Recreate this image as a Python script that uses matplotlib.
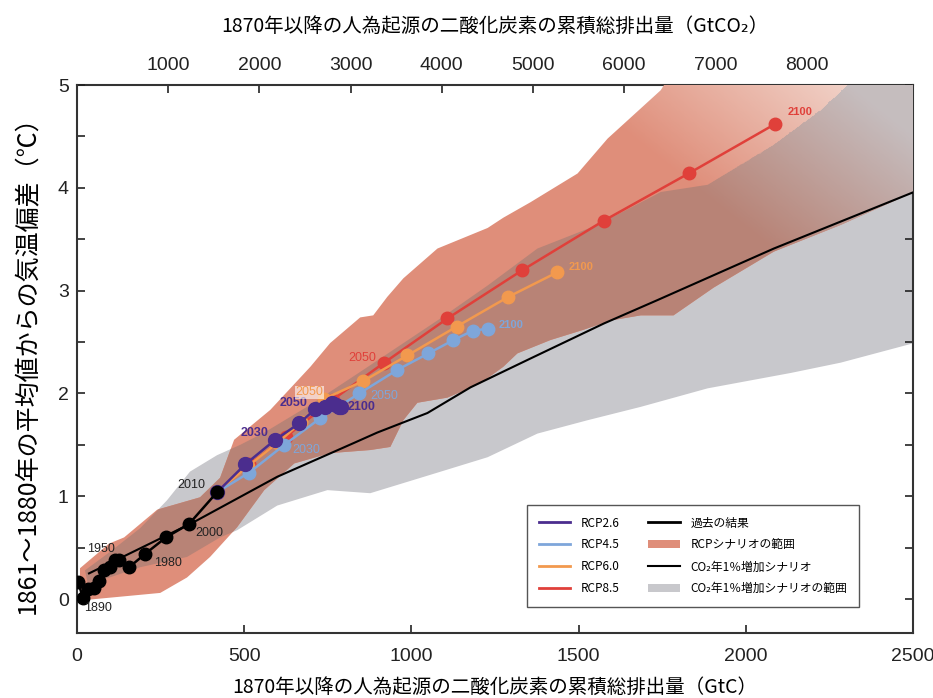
import numpy as np
import matplotlib
matplotlib.use('Agg')
import matplotlib.pyplot as plt
from matplotlib.patches import Polygon, Patch
from matplotlib.lines import Line2D
from matplotlib.path import Path
from matplotlib.ticker import MultipleLocator

plt.rcParams['font.family'] = ['Liberation Sans', 'Noto Sans CJK JP', 'DejaVu Sans']
jp = ['Noto Sans CJK JP', 'DejaVu Sans']

# cumulative emissions (GtC) and temperature anomaly (degC)
hist_x = [3, 18, 32, 50, 66, 81, 99, 114, 126, 156, 204, 266, 335, 419]
hist_y = [0.17, 0.01, 0.10, 0.11, 0.18, 0.28, 0.31, 0.38, 0.38, 0.31, 0.44, 0.60, 0.73, 1.04]

rcp26_x = [419, 503, 593, 665, 713, 743, 763, 775, 784, 790]
rcp26_y = [1.04, 1.31, 1.55, 1.71, 1.85, 1.87, 1.91, 1.89, 1.87, 1.87]
rcp45_x = [419, 515, 620, 728, 844, 958, 1051, 1126, 1183, 1228]
rcp45_y = [1.04, 1.23, 1.50, 1.76, 2.00, 2.23, 2.39, 2.52, 2.61, 2.63]
rcp60_x = [419, 510, 600, 670, 740, 856, 988, 1135, 1290, 1437]
rcp60_y = [1.04, 1.29, 1.52, 1.72, 1.95, 2.12, 2.37, 2.65, 2.94, 3.18]
rcp85_x = [419, 515, 625, 765, 919, 1108, 1332, 1575, 1829, 2087]
rcp85_y = [1.04, 1.31, 1.58, 1.94, 2.30, 2.73, 3.20, 3.68, 4.14, 4.62]

pct1_x = [36, 350, 599, 829, 898, 1048, 1177, 1356, 1575, 1737, 2084, 2503]
pct1_y = [0.25, 0.75, 1.19, 1.52, 1.62, 1.81, 2.06, 2.34, 2.68, 2.91, 3.41, 3.96]

# RCP scenario range (upper edge left->right, then lower edge right->left)
rcp_rng_x = [9, 96, 141, 240, 368, 428, 470, 578, 698, 757, 847, 886, 928, 976,
             1078, 1228, 1275, 1356, 1497, 1587, 1746, 1850, 2600,
             2600, 2503, 2284, 2084, 1904, 1784, 1686, 1596, 1515, 1416, 1317,
             1275, 1207, 1108, 1018, 976, 937, 877, 757, 650, 560, 479, 398,
             329, 249, 21, 9]
rcp_rng_y = [0.30, 0.54, 0.60, 0.87, 0.99, 1.18, 1.55, 1.84, 2.26, 2.49, 2.74, 2.76, 2.94, 3.12,
             3.41, 3.61, 3.71, 3.86, 4.14, 4.48, 4.95, 5.5, 5.5,
             4.05, 3.96, 3.64, 3.38, 3.03, 2.76, 2.76, 2.71, 2.62, 2.52, 2.39,
             2.26, 2.10, 1.96, 1.91, 1.74, 1.48, 1.45, 1.42, 1.32, 1.06, 0.70, 0.41,
             0.21, 0.06, -0.01, 0.02]

# 1%/yr CO2 increase range
pct_rng_x = [24, 99, 189, 269, 338, 419, 488, 560, 698, 847, 967, 1087, 1228, 1377,
             1557, 1746, 1886, 2084, 2225, 2305, 2400, 2600,
             2600, 2503, 2284, 2135, 1886, 1686, 1527, 1377, 1228, 1078, 877,
             749, 599, 479, 428, 329, 189, 33]
pct_rng_y = [0.28, 0.46, 0.69, 0.96, 1.24, 1.40, 1.50, 1.62, 1.89, 2.21, 2.47, 2.73, 3.05, 3.41,
             3.64, 3.96, 4.03, 4.42, 4.76, 5.00, 5.5, 5.5,
             2.52, 2.49, 2.30, 2.20, 2.05, 1.87, 1.74, 1.61, 1.38, 1.23, 1.03,
             1.06, 0.91, 0.67, 0.60, 0.41, 0.31, 0.14]

PURPLE = '#4b2d8e'
BLUE = '#7ea6da'
ORANGE = '#f2994e'
RED = '#e0403a'
SALMON = '#df8e7a'
BROWN = '#b88376'
GRAY = '#c8c8cc'

fig = plt.figure(figsize=(9.33, 6.98), dpi=100)
ax = fig.add_axes([0.0825, 0.0931, 0.896, 0.785])

rcp_xy = np.column_stack([rcp_rng_x, rcp_rng_y])
pct_xy = np.column_stack([pct_rng_x, pct_rng_y])

gray_patch = Polygon(pct_xy, closed=True, fc=GRAY, ec='none', zorder=1)
ax.add_patch(gray_patch)
rcp_patch = Polygon(rcp_xy, closed=True, fc=SALMON, ec='none', zorder=2)
ax.add_patch(rcp_patch)
overlap = Polygon(rcp_xy, closed=True, fc=BROWN, ec='none', zorder=3)
ax.add_patch(overlap)
overlap.set_clip_path(gray_patch)

# the RCP range fades out towards the upper right
gx = np.linspace(0, 2500, 900)
gy = np.linspace(-0.33, 5, 600)
GX, GY = np.meshgrid(gx, gy)
t = np.clip((GX - 1850) / 850 + (GY - 4.0) / 2.2, 0, 1)
in_gray = Path(pct_xy).contains_points(np.column_stack([GX.ravel(), GY.ravel()])).reshape(GX.shape)
fade = np.zeros(GX.shape + (4,))
pink = np.array([244, 222, 214]) / 255
grey = np.array([200, 200, 204]) / 255
fade[..., :3] = np.where(in_gray[..., None], grey, pink)
fade[..., 3] = 0.85 * t
im = ax.imshow(fade, extent=(0, 2500, -0.33, 5), origin='lower', aspect='auto',
               interpolation='nearest', zorder=4)
im.set_clip_path(rcp_patch)

ax.plot(pct1_x, pct1_y, color='black', lw=1.5, zorder=5)
ax.plot(rcp85_x, rcp85_y, '-o', color=RED, lw=1.8, ms=9, zorder=6)
ax.plot(rcp60_x, rcp60_y, '-o', color=ORANGE, lw=1.8, ms=9, zorder=7)
ax.plot(rcp45_x, rcp45_y, '-o', color=BLUE, lw=1.8, ms=9, zorder=8)
ax.plot(rcp26_x, rcp26_y, '-o', color=PURPLE, lw=1.8, ms=10, zorder=9)
ax.plot(hist_x, hist_y, '-o', color='black', lw=1.8, ms=9, zorder=10)

# year labels
for s, x, y in [('1890', 21, -0.09), ('1950', 30, 0.49), ('1980', 231, 0.35),
                ('2000', 353, 0.64), ('2010', 299, 1.11)]:
    ax.text(x, y, s, fontsize=9, color='#222222', va='center', ha='left', zorder=11)
ax.text(689, 1.91, '2050', fontsize=9, color=PURPLE, weight='bold', ha='right', va='center', zorder=11)
ax.text(572, 1.62, '2030', fontsize=9, color=PURPLE, weight='bold', ha='right', va='center', zorder=11)
ax.text(808, 1.87, '2100', fontsize=9, color=PURPLE, weight='bold', ha='left', va='center', zorder=11)
ax.text(644, 1.45, '2030', fontsize=9, color=BLUE, ha='left', va='center', zorder=11)
ax.text(877, 1.98, '2050', fontsize=9, color=BLUE, ha='left', va='center', zorder=11)
ax.text(1260, 2.67, '2100', fontsize=8, color=BLUE, weight='bold', ha='left', va='center', zorder=11)
ax.text(653, 2.01, '2050', fontsize=9, color=ORANGE, ha='left', va='center', zorder=11,
        bbox=dict(fc='white', ec='none', alpha=0.6, pad=0.5))
ax.text(1470, 3.23, '2100', fontsize=8, color=ORANGE, weight='bold', ha='left', va='center', zorder=11)
ax.text(811, 2.35, '2050', fontsize=9, color=RED, ha='left', va='center', zorder=11)
ax.text(2126, 4.74, '2100', fontsize=8, color=RED, weight='bold', ha='left', va='center', zorder=11)

ax.set_xlim(0, 2500)
ax.set_ylim(-0.33, 5)
ax.set_xticks([0, 500, 1000, 1500, 2000, 2500])
ax.set_yticks([0, 1, 2, 3, 4, 5])
ax.yaxis.set_minor_locator(MultipleLocator(0.5))
ax.tick_params(which='both', direction='in', left=True, right=True, bottom=True, top=False,
               length=6, width=1.2, labelsize=14, colors='#222222')
ax.tick_params(axis='x', pad=11)
ax.tick_params(axis='y', pad=6)
for sp in ax.spines.values():
    sp.set_linewidth(1.5)
    sp.set_color('#333333')
ax.spines['top'].set_visible(False)

sec = ax.secondary_xaxis('top', functions=(lambda x: x * 44 / 12, lambda x: x * 12 / 44))
sec.set_xticks(list(range(1000, 10000, 1000)))
sec.set_xticklabels([str(v) for v in range(1000, 9000, 1000)] + [''])
sec.tick_params(direction='in', length=6, width=1.2, labelsize=14, colors='#222222', pad=8)
sec.spines['top'].set_linewidth(1.5)
sec.spines['top'].set_color('#333333')
sec.set_xlabel('1870年以降の人為起源の二酸化炭素の累積総排出量（GtCO₂）',
               family=jp, fontsize=14, labelpad=18)

ax.set_xlabel('1870年以降の人為起源の二酸化炭素の累積総排出量（GtC）',
              family=jp, fontsize=14, labelpad=8)
ax.set_ylabel('1861〜1880年の平均値からの気温偏差（℃）', family=jp, fontsize=18, labelpad=12)

handles = [Line2D([], [], color=PURPLE, lw=2), Line2D([], [], color=BLUE, lw=2),
           Line2D([], [], color=ORANGE, lw=2), Line2D([], [], color=RED, lw=2),
           Line2D([], [], color='black', lw=2), Patch(fc=SALMON, ec='none'),
           Line2D([], [], color='black', lw=1.5), Patch(fc=GRAY, ec='none')]
labels = ['RCP2.6', 'RCP4.5', 'RCP6.0', 'RCP8.5', '過去の結果', 'RCPシナリオの範囲',
          'CO₂年1％増加シナリオ', 'CO₂年1％増加シナリオの範囲']
leg = ax.legend(handles, labels, ncol=2, loc='upper left', bbox_to_anchor=(0.538, 0.234),
                borderaxespad=0, prop={'family': jp, 'size': 8.5}, frameon=True,
                fancybox=False, edgecolor='#555555', framealpha=1, handlelength=2.7,
                handletextpad=0.9, columnspacing=2.4, borderpad=1.0, labelspacing=0.75)
leg.get_frame().set_linewidth(1.0)
leg.set_zorder(20)

fig.savefig('out.png', dpi=100)
